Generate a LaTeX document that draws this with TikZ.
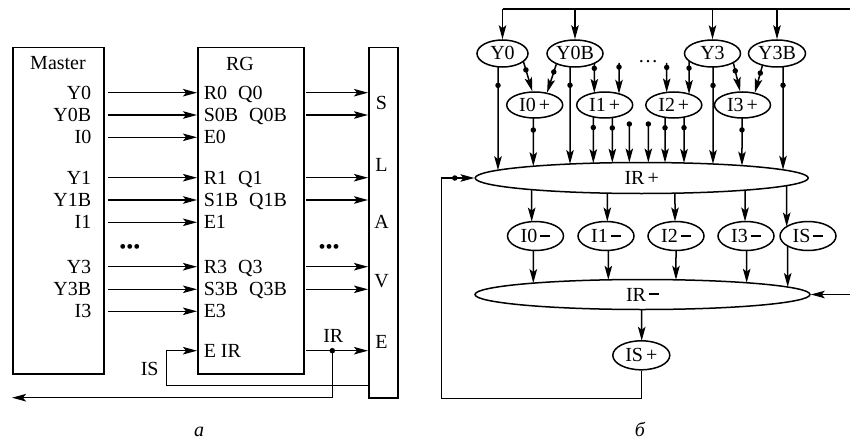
\documentclass[tikz,border=0pt]{standalone}
\usepackage{fontspec}
\setmainfont{Liberation Serif}
\usetikzlibrary{arrows.meta, shapes.geometric, intersections}

\tikzset{
  arr/.style={-{Stealth[length=14pt, width=7.5pt, inset=3pt]}},
  box/.style={draw, inner sep=0, anchor=north west},
  lbl/.style={inner sep=0, text height=13pt, text depth=0pt},
  oval/.style={ellipse, draw, inner sep=0, text height=13pt, text depth=0pt, minimum width=56, minimum height=26},
  dot/.style={circle, fill, inner sep=0, minimum size=5.5},
}
\newcommand\pls{\hspace{.15em}+}
\newcommand\mns{\hspace{.15em}\rule[.3em]{.5em}{.1em}}
\newcommand\drop[4][]{%
  \coordinate (vx) at (#4,0);
  \path[name path=vl] (vx |- #2.center) -- (vx |- #3.center);
  \draw[arr, name intersections={of=vl and #2, by=vs}, name intersections={of=vl and #3, by=ve}]
    (vs) -- node[#1]{} (ve);
}
\newcommand\dropin[3][]{%
  \path[name path=vl] (#2) -- (#2 |- #3.center);
  \draw[arr, name intersections={of=vl and #3, by=ve}] (#2) -- node[#1]{} (ve);
}

\begin{document}
\begin{tikzpicture}[x=1pt, y=-1pt, line width=1.5pt, font=\fontsize{20}{24}\selectfont]
  \useasboundingbox (0,0) rectangle (850,441);

  \node[box, minimum width=91, minimum height=326] (master) at (12,47) {};
  \node[box, minimum width=106, minimum height=326] (rg) at (197,47) {};
  \node[box, minimum width=29, minimum height=350] (slave) at (368,47) {};
  \node[lbl] (mtitle) at (58,63.3) {Master};
  \node[lbl] (rtitle) at (240,64.5) {RG};
  \foreach \l/\y in {S/103.3, L/165, A/221.7, V/280.8, E/342}
    \node[lbl] (sl\l) at (381.5,\y) {\l};

  \foreach \n/\y/\ml/\rl in {a/92.7/Y0/{R0\hspace{.55em}Q0}, b/115/Y0B/{S0B\hspace{.55em}Q0B}, c/137.3/I0/E0,
      d/177.7/Y1/{R1\hspace{.55em}Q1}, e/200/Y1B/{S1B\hspace{.55em}Q1B}, f/222.3/I1/E1,
      g/266.7/Y3/{R3\hspace{.55em}Q3}, h/289.3/Y3B/{S3B\hspace{.55em}Q3B}, i/311.3/I3/E3} {
    \node[lbl, anchor=east] (mst\n) at (92,\y) {\ml};
    \node[lbl, anchor=west] (lab\n) at (203,\y) {\rl};
    \draw[arr, shorten <=3pt] (master.east |- mst\n.east) -- (rg.west |- mst\n.east);
  }
  \foreach \n in {a,b,d,e,g,h}
    \draw[arr, shorten <=1.5pt] (rg.east |- mst\n.east) -- (slave.west |- mst\n.east);
  \node[lbl] (ldots) at (130,246.7) {•••};
  \node[lbl] (rdots) at (329,246.7) {•••};

  \node[lbl, anchor=west] (labir) at (203,350.7) {E IR};
  \node[dot] (irdot) at (332.3,350.7) {};
  \node[lbl] (irlbl) at (333.3,335.8) {IR};
  \node[lbl] (islbl) at (149.7,368.8) {IS};
  \draw[arr, shorten <=1.5pt] (rg.east |- labir.west) -- (slave.west |- labir.west);
  \coordinate (back) at (12,397.7);
  \draw[arr] (irdot.center) |- (back);
  \coordinate (isin) at (368,385.7);
  \coordinate (iscorner) at (166.7,350.7);
  \draw[arr] (isin) -| (iscorner) -- (rg.west |- labir.west);

  \foreach \n/\x/\w/\t in {y0/502.5/51/Y0, y0b/575/56/Y0B, y3/712.5/56/Y3, y3b/777/57/Y3B}
    \node[oval, minimum width=\w, minimum height=27, name path global=\n] (\n) at (\x,53.5) {\t};
  \foreach \n/\x/\t in {i0p/534.7/I0, i1p/604.7/I1, i2p/673.8/I2, i3p/742.5/I3}
    \node[oval, name path global=\n] (\n) at (\x,105) {\t\pls};
  \foreach \n/\x/\t in {i0m/535.5/I0, i1m/606/I1, i2m/676/I2, i3m/746/I3, ism/808/IS}
    \node[oval, minimum height=29, name path global=\n] (\n) at (\x,236) {\t\mns};
  \node[oval, minimum width=333, minimum height=31, name path global=irp] (irp) at (641.7,178) {IR\pls};
  \node[oval, minimum width=335, minimum height=30, name path global=irm] (irm) at (642.5,294.5) {IR\mns};
  \node[oval, minimum width=57, minimum height=29, name path global=isp] (isp) at (641.3,355.3) {IS\pls};
  \node[lbl] (tdots) at (648,56) {\dots};

  \coordinate (bus) at (850,9);
  \draw (y0.north |- bus) -- (bus);
  \foreach \n in {y0,y0b,y3,y3b}
    \draw[arr] (\n.north |- bus) -- (\n.north);

  \draw[arr] (y0.-22) -- node[dot, pos=.27]{} (i0p.100);
  \draw[arr] (y0b.-150) -- node[dot, pos=.27]{} (i0p.45);
  \draw[arr] (y3.-25) -- node[dot, pos=.27]{} (i3p.100);
  \draw[arr] (y3b.-140) -- node[dot, pos=.27]{} (i3p.45);
  \drop[dot, pos=.17]{y0b}{i1p}{594.3}
  \drop[dot, pos=.22]{y3}{i2p}{689}
  \coordinate (t1) at (619,63);
  \dropin[dot, pos=.13]{t1}{i1p}
  \coordinate (t2) at (666.7,63);
  \dropin[dot, pos=.15]{t2}{i2p}

  \drop[dot, pos=.18]{y0}{irp}{498}
  \drop[dot, pos=.19]{y0b}{irp}{570}
  \drop[dot, pos=.19]{y3}{irp}{713}
  \drop[dot, pos=.18]{y3b}{irp}{783}
  \drop[dot, pos=.25]{i0p}{irp}{533.3}
  \drop[dot, pos=.25]{i3p}{irp}{742}
  \foreach \x in {593.3,612.3} {\drop[dot, pos=.23]{i1p}{irp}{\x}}
  \foreach \x in {665,684} {\drop[dot, pos=.23]{i2p}{irp}{\x}}
  \foreach \x in {629.3,648.3} {
    \coordinate (f) at (\x,124);
    \dropin[dot, pos=0]{f}{irp}
  }

  \foreach \n/\x in {i0m/531.7, i1m/607.3, i2m/675, i3m/745, ism/786.7} {\drop{irp}{\n}{\x}}
  \foreach \n/\x in {i0m/533.3, i1m/608.3, i2m/676, i3m/746.7, ism/787.7} {\drop{\n}{irm}{\x}}
  \drop{irm}{isp}{641.7}

  \coordinate (fb) at (441.7,398.3);
  \draw[arr] (isp.south) |- (fb) |- node[dot, pos=.7]{} (irp.west);
  \coordinate (rin) at (850,294.5);
  \draw[arr] (rin) -- (irm.east);

  \node[anchor=base, inner sep=0] (capa) at (199,436.5) {\itshape а};
  \node[anchor=base, inner sep=0] (capb) at (640,436.5) {\itshape б};
\end{tikzpicture}
\end{document}
